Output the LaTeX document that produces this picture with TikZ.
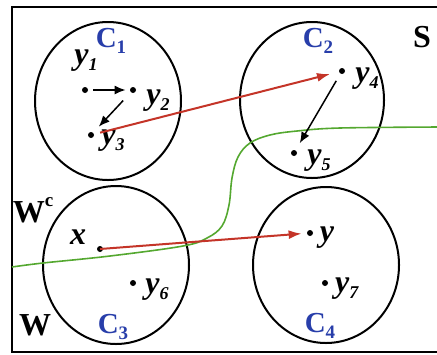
\documentclass[tikz,border=0pt]{standalone}
\usepackage{fontspec}
\setmainfont{Liberation Serif}
\usetikzlibrary{arrows.meta}

\definecolor{pfeilrot}{RGB}{196,52,40}
\definecolor{grenzgruen}{RGB}{84,168,48}
\definecolor{clusterblau}{RGB}{40,62,170}

\newcommand{\ylab}[1]{\textbf{\textit{y}}\raisebox{-0.4ex}{\fontsize{9}{9}\selectfont\textbf{\textit{#1}}}}
\newcommand{\clab}[1]{\textcolor{clusterblau}{\textbf{C}\raisebox{-0.45ex}{\fontsize{9.5}{9.5}\selectfont\textbf{#1}}}}

\tikzset{
  punkt/.style={circle, fill=black, inner sep=0pt, minimum size=3pt},
  lbl/.style={inner sep=0pt, font=\fontsize{16}{16}\selectfont},
  clbl/.style={inner sep=0pt, font=\fontsize{14.5}{14.5}\selectfont},
  cluster/.style={line width=1pt},
  schwarzpfeil/.style={-{Latex[length=5.5pt,width=4.5pt]}, line width=0.75pt},
  rotpfeil/.style={-{Latex[length=6.5pt,width=4.5pt]}, line width=1pt, draw=pfeilrot},
}

\begin{document}
\begin{tikzpicture}[x=0.5pt, y=-0.5pt]

            \useasboundingbox (0,0) rectangle (437,354);

            % Rahmen
            \draw[line width=1pt] (12,7) rectangle (442,352);

            % Cluster (Ellipsen)
            \draw[cluster] (108,101) ellipse [x radius=36.5pt, y radius=39.5pt];
            \draw[cluster] (312,100) ellipse [x radius=36pt, y radius=39pt];
            \draw[cluster] (116,265) ellipse [x radius=36.5pt, y radius=39.5pt];
            \draw[cluster] (326,265) ellipse [x radius=36.5pt, y radius=39pt];

            % Grenze zwischen W und W^c
            \draw[grenzgruen, line width=0.8pt] plot[smooth, tension=0.6] coordinates {
              (12,267) (43,263) (110,256) (183,246) (207,238) (222,226)
              (229,205) (232,178) (238,157) (250,143) (270,135) (297,131)
              (340,128) (440,127)};

            % Punkte
            \node[punkt] (y1) at (85,90) {};
            \node[punkt] (y2) at (133,90) {};
            \node[punkt] (y3) at (91,135) {};
            \node[punkt] (y4) at (342,71) {};
            \node[punkt] (y5) at (294,153) {};
            \node[punkt] (x) at (100,249) {};
            \node[punkt] (y6) at (133,283) {};
            \node[punkt] (y) at (310,233) {};
            \node[punkt] (y7) at (325,283) {};

            % Beschriftung der Punkte
            \node[lbl] (ly1) at (86,61) {\ylab{1}};
            \node[lbl] (ly2) at (158,101) {\ylab{2}};
            \node[lbl] (ly3) at (113,141) {\ylab{3}};
            \node[lbl] (ly4) at (367,79) {\ylab{4}};
            \node[lbl] (ly5) at (319,161) {\ylab{5}};
            \node[lbl] (lx) at (78,237) {\textbf{\textit{x}}};
            \node[lbl] (ly6) at (157,290) {\ylab{6}};
            \node[lbl] (ly) at (327,238) {\textbf{\textit{y}}};
            \node[lbl] (ly7) at (347,289) {\ylab{7}};

            % Namen der Cluster
            \node[clbl] (c1) at (111,41) {\clab{1}};
            \node[clbl] (c2) at (318,41) {\clab{2}};
            \node[clbl] (c3) at (113,327) {\clab{3}};
            \node[clbl] (c4) at (320,326) {\clab{4}};

            % Mengen S, W, W^c
            \node[lbl] (s) at (422,37) {\textbf{S}};
            \node[lbl] (wc) at (33,210) {\textbf{W}\raisebox{1.1ex}{\fontsize{9.5}{9.5}\selectfont\textbf{c}}};
            \node[lbl] (w) at (35,325) {\textbf{W}};

            % Pfeile innerhalb der Cluster
            \draw[schwarzpfeil, shorten <=2.5pt, shorten >=2pt] (y1) -- (y2);
            \draw[schwarzpfeil, shorten <=5.5pt, shorten >=4pt] (y2) -- (y3);
            \draw[schwarzpfeil, shorten <=4pt, shorten >=4pt] (y4) -- (y5);

            % rote Pfeile
            \draw[rotpfeil, shorten <=3pt, shorten >=4.5pt] (y3) -- (y4);
            \draw[rotpfeil, shorten >=2.5pt] (x.center) -- (y);

\end{tikzpicture}
\end{document}
